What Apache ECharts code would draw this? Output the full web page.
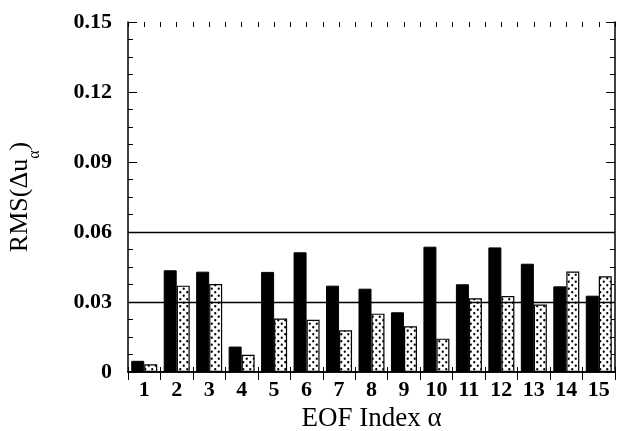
<!DOCTYPE html>
<html><head><meta charset="utf-8">
<script src="https://cdn.jsdelivr.net/npm/echarts@6/dist/echarts.min.js"></script>
<style>html,body{margin:0;padding:0;background:#fff}#c{width:617px;height:431px}</style>
</head><body><div id="c"></div>
<script>
const categories = ['1','2','3','4','5','6','7','8','9','10','11','12','13','14','15'];
const solidValues = [0.0048,0.0436,0.0430,0.0109,0.0429,0.0513,0.0370,0.0357,0.0256,0.0537,0.0376,0.0534,0.0464,0.0367,0.0327];
const dottedValues = [0.0033,0.0370,0.0377,0.0074,0.0229,0.0224,0.0179,0.0250,0.0196,0.0143,0.0316,0.0326,0.0289,0.0431,0.0410];
const yTicks = [0, 0.03, 0.06, 0.09, 0.12, 0.15];
const refLines = [0.03, 0.06];

const pc = document.createElement('canvas');
pc.width = 7; pc.height = 7;
const g = pc.getContext('2d');
g.fillStyle = '#fff'; g.fillRect(0,0,7,7);
g.fillStyle = '#000';
g.beginPath(); g.arc(1.75,1.75,1.15,0,Math.PI*2); g.fill();
g.beginPath(); g.arc(5.25,5.25,1.15,0,Math.PI*2); g.fill();

const font = 'Liberation Serif';
const chart = echarts.init(document.getElementById('c'));
const yMin = yTicks[0], yMax = yTicks[yTicks.length-1], yInt = yTicks[1]-yTicks[0];
const axisLine = {show:true, lineStyle:{color:'#000', width:1.5}};
chart.setOption({
  animation:false,
  backgroundColor:'#fff',
  grid:{left:128, right:2, top:22, bottom:59, containLabel:false, outerBoundsMode:'none'},
  xAxis:[
    {type:'category', data:categories, position:'bottom', axisLine,
     axisTick:{show:true, inside:true, length:5, lineStyle:{color:'#000'}},
     axisLabel:{color:'#000', fontFamily:font, fontSize:22, fontWeight:'bold', margin:7},
     name:'EOF Index α', nameLocation:'middle', nameGap:32,
     nameTextStyle:{color:'#000', fontFamily:font, fontSize:27}},
    {type:'category', data:categories, position:'top', axisLine,
     axisTick:{show:true, inside:true, length:8, lineStyle:{color:'#000'}},
     axisLabel:{show:false}},
    {type:'value', min:0, max:15, interval:0.5, position:'top', axisLine:{show:false},
     axisTick:{show:true, inside:true, length:5, lineStyle:{color:'#000'}},
     axisLabel:{show:false}, splitLine:{show:false}}
  ],
  yAxis:[
    {type:'value', min:yMin, max:yMax, interval:yInt, axisLine,
     axisTick:{show:true, inside:true, length:9, lineStyle:{color:'#000'}},
     minorTick:{show:true, splitNumber:4, length:5, lineStyle:{color:'#000'}},
     splitLine:{show:false},
     axisLabel:{color:'#000', fontFamily:font, fontSize:22, fontWeight:'bold', margin:16,
       formatter:v => Math.abs(v)<1e-9 ? '0' : v.toFixed(2)},
     name:'RMS(Δu{s|α})', nameLocation:'middle', nameGap:95,
     nameTextStyle:{color:'#000', fontFamily:font, fontSize:26,
       rich:{s:{fontFamily:font, fontSize:16, color:'#000', verticalAlign:'bottom', padding:[0,0,-10,0]}}}},
    {type:'value', min:yMin, max:yMax, interval:yInt, position:'right', axisLine,
     axisTick:{show:true, inside:true, length:9, lineStyle:{color:'#000'}},
     minorTick:{show:true, splitNumber:4, length:5, lineStyle:{color:'#000'}},
     splitLine:{show:false}, axisLabel:{show:false}}
  ],
  series:[
    {type:'bar', data:solidValues, barWidth:13, barGap:'0%', xAxisIndex:0, yAxisIndex:0,
     itemStyle:{color:'#000', borderColor:'#000', borderWidth:1},
     markLine:{silent:true, symbol:'none', label:{show:false},
       lineStyle:{color:'#000', width:1.3, type:'solid'},
       data:refLines.map(v=>({yAxis:v}))}},
    {type:'bar', data:dottedValues, barWidth:13, xAxisIndex:0, yAxisIndex:0,
     itemStyle:{color:{image:pc, repeat:'repeat'}, borderColor:'#000', borderWidth:1.2}}
  ]
});
</script></body></html>
